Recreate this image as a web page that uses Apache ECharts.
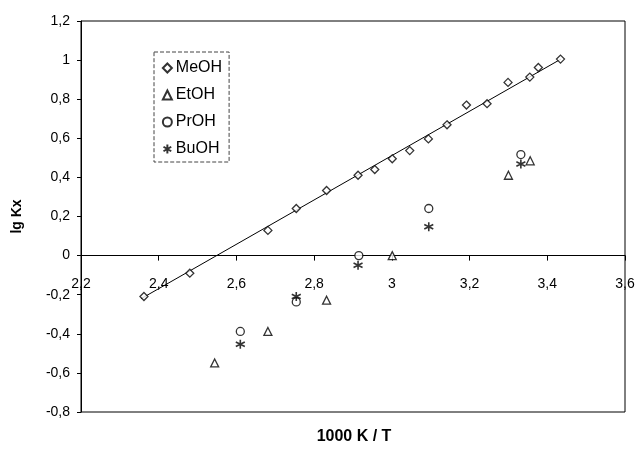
<!DOCTYPE html>
<html>
<head>
<meta charset="utf-8">
<script src="https://cdn.jsdelivr.net/npm/echarts@6/dist/echarts.min.js"></script>
<style>html,body{margin:0;padding:0;background:#fff}#c{width:639px;height:452px}</style>
</head>
<body>
<div id="c"></div>
<script>
// Data
var meohX = [2.362, 2.480, 2.681, 2.754, 2.832, 2.913, 2.956, 3.001, 3.046, 3.094, 3.142, 3.192, 3.245, 3.299, 3.355, 3.377, 3.434];
var meohY = [-0.209, -0.090, 0.129, 0.241, 0.333, 0.411, 0.440, 0.495, 0.537, 0.597, 0.669, 0.770, 0.777, 0.886, 0.913, 0.962, 1.005];
var etohX = [2.544, 2.681, 2.832, 3.001, 3.300, 3.356];
var etohY = [-0.549, -0.388, -0.228, 0.0, 0.411, 0.485];
var prohX = [2.610, 2.754, 2.915, 3.095, 3.332];
var prohY = [-0.388, -0.237, 0.0, 0.241, 0.517];
var buohX = [2.610, 2.754, 2.913, 3.095, 3.332];
var buohY = [-0.453, -0.209, -0.049, 0.148, 0.469];
// MeOH trend line endpoints
var trendX = [2.355, 3.435];
var trendY = [-0.22, 1.005];
var seriesNames = ['MeOH', 'EtOH', 'PrOH', 'BuOH'];
var xTitle = '1000 K / T';
var yTitle = 'lg Kx';

function pairs(xs, ys) { return xs.map(function (x, i) { return [x, ys[i]]; }); }
function fmt(v) {
  var r = Math.round(v * 10) / 10;
  return String(r).replace('.', ',');
}
var FONT = '"Liberation Sans", Arial, sans-serif';
var markStyle = { color: '#fff', borderColor: '#000', borderWidth: 1.3 };
var starPath = 'path://M5,0L5,10M0.7,2.5L9.3,7.5M0.7,7.5L9.3,2.5';

var GRID = { left: 81, right: 14, top: 21, bottom: 40 };
var chart = echarts.init(document.getElementById('c'), null, { renderer: 'canvas' });
chart.setOption({
  animation: false,
  backgroundColor: '#fff',
  textStyle: { fontFamily: FONT, color: '#000' },
  grid: { left: GRID.left, right: GRID.right, top: GRID.top, bottom: GRID.bottom, show: true, borderColor: '#000', borderWidth: 1, backgroundColor: 'transparent' },
  legend: {
    orient: 'vertical', left: 154, top: 52,
    padding: [8, 7, 5, 7],
    borderColor: '#444', borderWidth: 1, borderType: 'dashed',
    itemWidth: 9, itemHeight: 9, itemGap: 11,
    textStyle: { fontSize: 16, fontFamily: FONT, color: '#000', padding: [0, 0, 0, -1] },
    data: seriesNames
  },
  xAxis: {
    type: 'value', min: 2.2, max: 3.6, interval: 0.2,
    position: 'bottom', offset: 0,
    axisLine: { onZero: false, lineStyle: { color: '#000', width: 1 } },
    axisTick: { show: true, inside: false, length: 5, lineStyle: { color: '#000' } },
    axisLabel: { margin: 22, fontSize: 14, color: '#000', fontFamily: FONT, formatter: fmt, showMinLabel: true, showMaxLabel: true },
    splitLine: { show: false }
  },
  yAxis: {
    type: 'value', min: -0.8, max: 1.2, interval: 0.2,
    axisLine: { show: true, onZero: false, lineStyle: { color: '#000', width: 1 } },
    axisTick: { show: true, length: 4, lineStyle: { color: '#000' } },
    axisLabel: { margin: 11, fontSize: 14, color: '#000', fontFamily: FONT, formatter: fmt },
    splitLine: { show: false },
    name: yTitle, nameLocation: 'middle', nameGap: 57, nameRotate: 90,
    nameTextStyle: { fontSize: 14, fontWeight: 'bold', color: '#000', fontFamily: FONT }
  },
  graphic: [{
    type: 'text', x: 354, y: 437,
    style: { text: xTitle, font: 'bold 16px ' + FONT, fill: '#000', align: 'center', verticalAlign: 'middle', textAlign: 'center', textVerticalAlign: 'middle' }
  }],
  series: [
    { name: 'MeOH', type: 'scatter', symbol: 'diamond', symbolSize: 8, itemStyle: markStyle, data: pairs(meohX, meohY), z: 3 },
    { name: 'EtOH', type: 'scatter', symbol: 'triangle', symbolSize: 8, itemStyle: markStyle, data: pairs(etohX, etohY), z: 3 },
    { name: 'PrOH', type: 'scatter', symbol: 'circle', symbolSize: 8, itemStyle: markStyle, data: pairs(prohX, prohY), z: 3 },
    { name: 'BuOH', type: 'scatter', symbol: starPath, symbolSize: 9, itemStyle: { color: 'none', borderColor: '#000', borderWidth: 1.6 }, data: pairs(buohX, buohY), z: 3 },
    { name: 'trend', type: 'line', symbol: 'none', silent: true, lineStyle: { color: '#000', width: 1 }, data: pairs(trendX, trendY), z: 2 }
  ]
});
// Move the x axis (line, ticks, labels) up so it crosses at y = 0, like the original
var zeroPx = chart.convertToPixel({ yAxisIndex: 0 }, 0);
var bottomPx = 452 - GRID.bottom;
chart.setOption({ xAxis: { offset: zeroPx - bottomPx } });
</script>
</body>
</html>
